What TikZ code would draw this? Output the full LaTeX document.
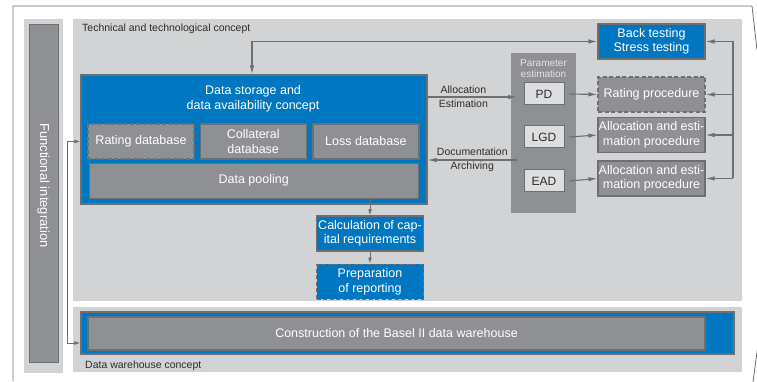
\documentclass[tikz,border=0pt]{standalone}
\usepackage{fontspec}
\setmainfont{Liberation Sans}
\usetikzlibrary{positioning,arrows.meta}
\definecolor{bblue}{RGB}{0,119,192}
\definecolor{boxgray}{RGB}{143,144,147}
\definecolor{edgegray}{RGB}{110,111,113}
\definecolor{panelgray}{RGB}{210,211,213}
\definecolor{pdgray}{RGB}{221,222,223}
\definecolor{labelgray}{RGB}{45,45,45}
\definecolor{paramtext}{RGB}{228,228,228}
\begin{document}
\begin{tikzpicture}[
    x=1pt, y=-1pt,
    node distance=5pt,
    panel/.style={fill=panelgray},
    concept/.style={font=\fontsize{10.5}{14}\selectfont, text=labelgray, inner sep=0pt, align=center},
    bigbox/.style={rectangle, draw=edgegray, fill=bblue, line width=1.2pt, inner sep=0pt},
    bluebox/.style={rectangle, draw=edgegray, fill=bblue, text=white, line width=1.2pt, align=center, inner sep=0pt, minimum width=107pt, minimum height=35pt, font=\fontsize{12.5}{14.5}\selectfont},
    graybox/.style={bluebox, fill=boxgray},
    dashbox/.style={dash pattern=on 4pt off 2.5pt},
    parambox/.style={rectangle, draw=edgegray, fill=pdgray, text=labelgray, line width=1pt, inner sep=0pt, minimum width=40pt, minimum height=22pt, font=\fontsize{12}{14}\selectfont},
    arrow/.style={draw=edgegray, line width=1.1pt, -{Latex[length=9pt,width=4.5pt]}},
    twoway/.style={draw=edgegray, line width=1.1pt, {Latex[length=9pt,width=4.5pt]}-{Latex[length=9pt,width=4.5pt]}},
    short/.style={draw=edgegray, line width=1pt, -{Latex[length=6pt,width=4pt]}},
    shortway/.style={draw=edgegray, line width=1pt, {Latex[length=6pt,width=4pt]}-{Latex[length=6pt,width=4pt]}}
]
    \useasboundingbox (0,0) rectangle (757,382);

    % Page frame
    \draw[edgegray, line width=0.8pt] (13,381) -- (13,6) -- (752,6) -- (757,50);
    \draw[edgegray, line width=0.8pt] (759,337) -- (753,382);

    % Background panels
    \fill[panel] (24,19) rectangle (63,373);
    \fill[panel] (73,19) rectangle (742,301);
    \fill[panel] (73,307) rectangle (742,372);
    \node[concept, anchor=base west] (techlabel) at (82,32) {Technical and technological concept};
    \node[concept, anchor=base west] (dwlabel) at (85,368) {Data warehouse concept};

    % Functional integration
    \node[rectangle, draw=edgegray, fill=boxgray, line width=0.8pt, rotate=-90, minimum width=338pt, minimum height=29pt] (funcbar) at (43.5,193) {};
    \node[rotate=-90, text=white, font=\fontsize{13}{15}\selectfont, inner sep=0pt] (funclabel) at (43.5,185.5) {Functional integration};

    % Data storage and availability
    \node[bigbox, minimum width=346pt, minimum height=129pt] (datastore) at (254,139.5) {};
    \node[text=white, font=\fontsize{12.5}{15}\selectfont, align=center, inner sep=0pt] (storetitle) at (253,99) {Data storage and\\data availability concept};
    \node[graybox, dashbox, minimum width=106pt] (ratingdb) at (141,141.5) {Rating database};
    \node[graybox, minimum width=106pt, right=5pt of ratingdb] (collatdb) {Collateral\\database};
    \node[graybox, minimum width=106pt, right=5.5pt of collatdb] (lossdb) {Loss database};
    \node[graybox, minimum width=329pt, below=3pt of collatdb, xshift=0.5pt] (pooling) {Data pooling};

    % Capital requirements and reporting
    \node[bluebox] (calc) at (370,233.5) {Calculation of cap-\\ital requirements};
    \node[bluebox, dashbox, below=12pt of calc] (prep) {Preparation\\of reporting};

    % Parameter estimation
    \node[rectangle, fill=boxgray, minimum width=65pt, minimum height=160pt] (param) at (543.5,133) {};
    \node[text=paramtext, font=\fontsize{10}{11}\selectfont, align=center, inner sep=0pt] (paramlabel) at (543.5,68.5) {Parameter\\estimation};
    \node[parambox] (pd) at (544,94) {PD};
    \node[parambox, below=20pt of pd] (lgd) {LGD};
    \node[parambox, below=21pt of lgd] (ead) {EAD};

    % Procedures
    \node[bluebox] (backtest) at (651.5,41.5) {Back testing\\Stress testing};
    \node[graybox, dashbox] (ratingproc) at (651.5,94.5) {Rating procedure};
    \node[graybox] (alloclgd) at (651.5,135) {Allocation and esti-\\mation procedure};
    \node[graybox] (allocead) at (651.5,178.5) {Allocation and esti-\\mation procedure};

    % Data warehouse
    \node[bigbox, minimum width=653pt, minimum height=42pt] (dwbox) at (407.5,333) {};
    \node[graybox, minimum width=617pt, minimum height=33pt] (dwinner) at (396.5,333.5) {Construction of the Basel II data warehouse};

    % Connector points
    \coordinate (allocin) at (517,97);
    \coordinate (docout) at (517,160);
    \coordinate (bus) at (733,0);
    \coordinate (fbus) at (67,0);

    % Arrows
    \draw[twoway] (backtest.west) -| ([xshift=-2pt]datastore.north);
    \draw[arrow] (datastore.east |- allocin) -- node[concept, pos=0.4] {Allocation\\Estimation} (allocin);
    \draw[arrow] (docout) -- node[concept] {Documentation\\Archiving} (datastore.east |- docout);
    \draw[arrow] ([xshift=5pt]pd.east) -- (ratingproc.west);
    \draw[arrow] ([xshift=5pt]lgd.east) -- (alloclgd.west);
    \draw[arrow] ([xshift=5pt]ead.east) -- (allocead.west);

    % Feedback from the right
    \draw[edgegray, line width=1.1pt] (bus |- backtest.east) -- (bus |- allocead.east);
    \draw[arrow] (bus |- backtest.east) -- (backtest.east);
    \draw[arrow] (bus |- ratingproc.east) -- (ratingproc.east);
    \draw[arrow] (bus |- alloclgd.east) -- (alloclgd.east);
    \draw[arrow] (bus |- allocead.east) -- (allocead.east);

    % Down to reporting
    \draw[short] (pooling.south -| calc.north) -- (calc.north);
    \draw[short] (calc) -- (prep);

    % Functional integration link
    \draw[shortway] (datastore.west |- ratingdb) -- (fbus |- ratingdb) -- (fbus |- 0,343) -- (dwbox.west |- 0,343);
\end{tikzpicture}
\end{document}
